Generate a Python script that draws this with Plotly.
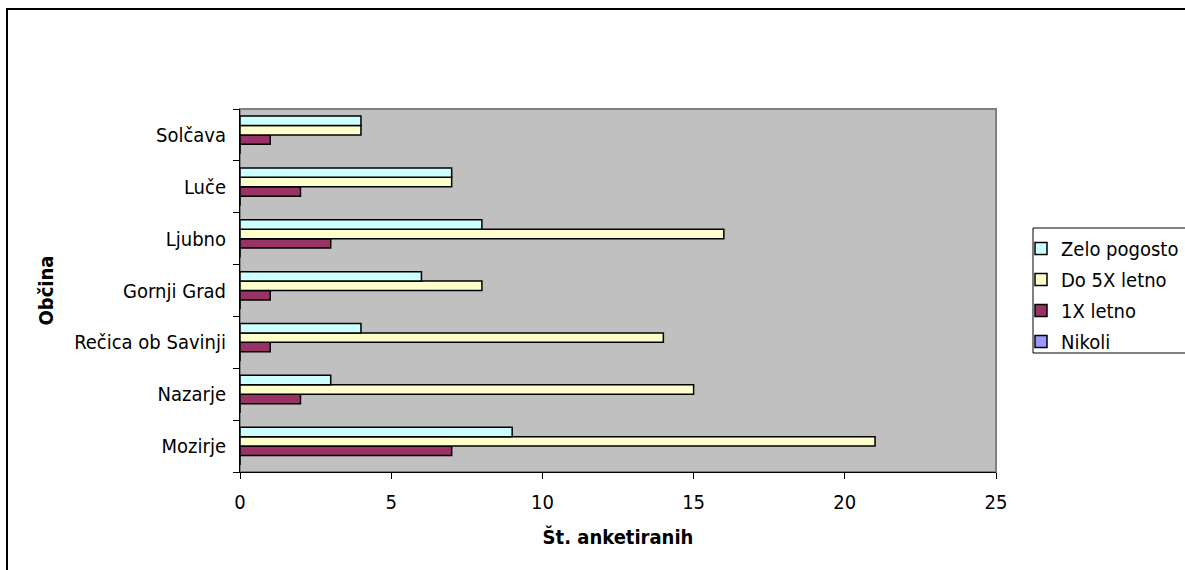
import plotly.graph_objects as go

categories = ["Mozirje", "Nazarje", "Rečica ob Savinji", "Gornji Grad", "Ljubno", "Luče", "Solčava"]
series_names = ["Nikoli", "1X letno", "Do 5X letno", "Zelo pogosto"]
nikoli = [0, 0, 0, 0, 0, 0, 0]
enkrat_letno = [7, 2, 1, 1, 3, 2, 1]
do_5x_letno = [21, 15, 14, 8, 16, 7, 4]
zelo_pogosto = [9, 3, 4, 6, 8, 7, 4]
x_ticks = [0, 5, 10, 15, 20, 25]

colors = ["#9999FF", "#993366", "#FFFFCC", "#CCFFFF"]
values = [nikoli, enkrat_letno, do_5x_letno, zelo_pogosto]
legend_ranks = [4, 3, 2, 1]

FONT = "Tahoma, 'DejaVu Sans Condensed', 'Liberation Sans', sans-serif"
FS = 20

fig = go.Figure()
for name, vals, col, rk in zip(series_names, values, colors, legend_ranks):
    fig.add_trace(go.Bar(
        y=categories, x=vals, name=name, orientation="h",
        marker=dict(color=col, line=dict(color="black", width=1.5)),
        legendgroup=name, legendrank=rk,
    ))

L, R, T, B = 240, 996, 109, 472
W, H = 1185, 570

def px(x):
    return (x - L) / (R - L)

def py(y):
    return (B - y) / (B - T)

fig.update_layout(
    width=W, height=H,
    margin=dict(l=L, r=W - R, t=T, b=H - B, pad=0, autoexpand=False),
    paper_bgcolor="white",
    plot_bgcolor="#C0C0C0",
    barmode="group",
    bargap=0.273,
    bargroupgap=0,
    font=dict(family=FONT, size=FS, color="black"),
    showlegend=True,
    legend=dict(
        x=px(1021), y=py(229), xanchor="left", yanchor="top",
        borderwidth=0, bgcolor="rgba(0,0,0,0)",
        traceorder="grouped", tracegroupgap=2,
        font=dict(family=FONT, size=FS),
    ),
    xaxis=dict(
        range=[0, 25], tickvals=x_ticks, ticks="outside", ticklen=6,
        tickcolor="black", showline=True, linecolor="black", linewidth=1,
        showgrid=False, zeroline=False, mirror=False,
        ticklabelstandoff=6,
        title=dict(text="<b>Št. anketiranih</b>", font=dict(family=FONT, size=FS), standoff=16),
        tickfont=dict(size=FS),
    ),
    yaxis=dict(
        categoryorder="array", categoryarray=categories,
        ticks="outside", tickson="boundaries", ticklen=6, tickcolor="black",
        showline=True, linecolor="black", linewidth=1, showgrid=False,
        ticklabelstandoff=9,
        title=dict(text="<b>Občina</b>", font=dict(family=FONT, size=FS), standoff=15),
        tickfont=dict(size=FS),
    ),
    shapes=[
        dict(type="rect", xref="paper", yref="paper", x0=0, x1=1, y0=0, y1=1,
             line=dict(color="#808080", width=2), layer="below"),
        dict(type="rect", xref="paper", yref="paper",
             x0=px(1033), x1=px(1240), y0=py(353), y1=py(228),
             line=dict(color="black", width=1)),
        dict(type="rect", xref="paper", yref="paper",
             x0=px(7), x1=px(1260), y0=py(620), y1=py(9),
             line=dict(color="black", width=2)),
    ],
)

fig.write_html("out.html")
